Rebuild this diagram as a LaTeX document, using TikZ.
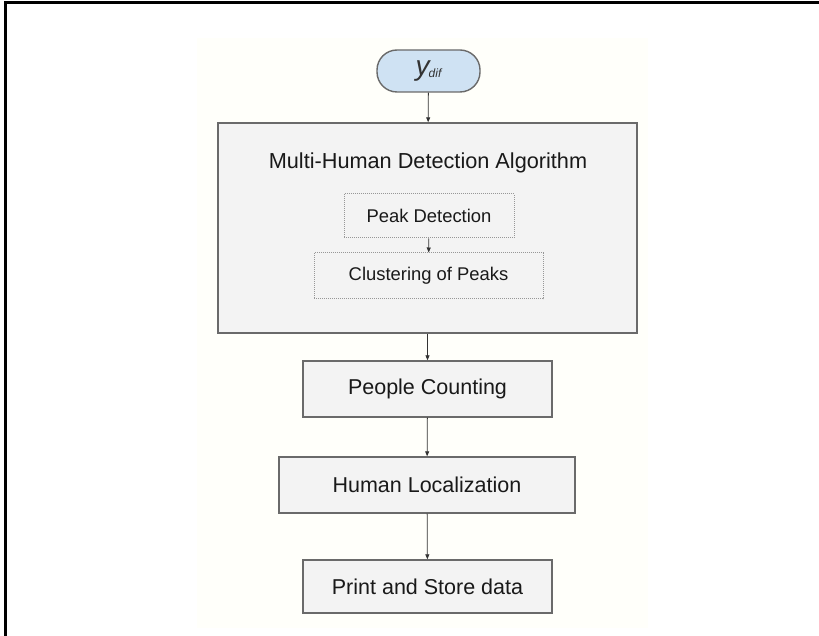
\documentclass[tikz,border=0pt]{standalone}
\usepackage{fontspec}
\setmainfont{Liberation Sans}
\usetikzlibrary{arrows.meta}
\definecolor{edge}{HTML}{6A6A6A}
\definecolor{boxfill}{HTML}{F3F3F3}
\definecolor{bluefill}{HTML}{CFE2F3}
\definecolor{cream}{HTML}{FFFFFA}
\begin{document}
\begin{tikzpicture}[x=1pt,y=-1pt,
  procbox/.style={draw=edge,line width=1.4pt,fill=boxfill,inner sep=0pt,font=\fontsize{21.5}{24}\selectfont,text=black!90},
  subbox/.style={draw=edge!70,densely dotted,line width=1pt,inner sep=0pt,font=\fontsize{18.4}{21}\selectfont,text=black!90},
  conn/.style={-{Triangle[length=5pt,width=4pt]},line width=0.8pt,draw=black!80}]
\useasboundingbox (0,0) rectangle (819,636);
\fill[white] (0,0) rectangle (819,636);
\fill[cream] (197,38) rectangle (648,628);
\draw[line width=3pt,black] (5.5,636) -- (5.5,3) -- (819,3);
\node[draw=edge,line width=1.4pt,fill=bluefill,rounded corners=20pt,minimum width=103pt,minimum height=42pt,inner sep=0pt,text=black!80] (ydif) at (428.5,71)
  {\fontsize{28}{30}\selectfont\itshape y\kern-1pt\raisebox{-2pt}{\fontsize{12}{13}\selectfont dif}};
\node[procbox,minimum width=419pt,minimum height=210pt] (mhd) at (427.5,228) {};
\node[font=\fontsize{21.7}{24}\selectfont,text=black!90] (title) at (428,163) {Multi-Human Detection Algorithm};
\node[subbox,minimum width=170pt,minimum height=44pt] (peak) at (429,216) {Peak Detection};
\node[subbox,minimum width=229pt,minimum height=46pt] (clust) at (428.5,276) {Clustering of Peaks};
\node[procbox,minimum width=249pt,minimum height=56pt] (people) at (427.5,389) {People Counting};
\node[procbox,minimum width=296pt,minimum height=56pt] (human) at (427,485) {Human Localization};
\node[procbox,minimum width=249pt,minimum height=53pt] (print) at (427.5,586.5) {Print and Store data};
\draw[conn] (ydif) -- (mhd);
\draw[conn] (peak) -- (clust);
\draw[conn] (mhd.south) -- (people);
\draw[conn] (people) -- (human);
\draw[conn] (human) -- (print);
\end{tikzpicture}
\end{document}
